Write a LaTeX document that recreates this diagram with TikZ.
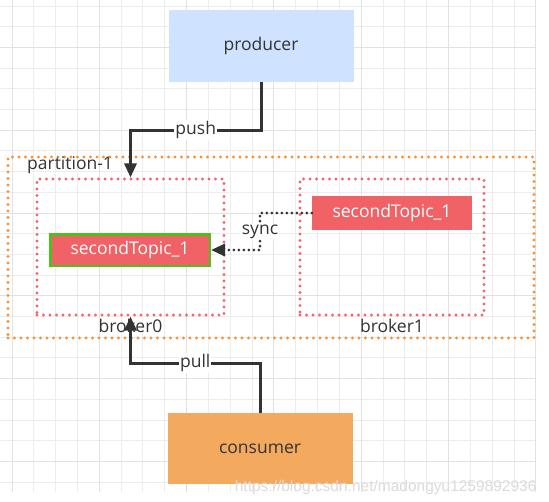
\documentclass[tikz,border=0pt]{standalone}
\usepackage{fontspec}
\setmainfont{Open Sans}
\newfontfamily\wmfont{Liberation Sans}
\usetikzlibrary{arrows.meta,calc}
\definecolor{kgrid}{HTML}{EDEDED}
\definecolor{kgridb}{HTML}{E2E2E2}
\definecolor{ktext}{HTML}{333333}
\definecolor{kblue}{HTML}{CFE2FF}
\definecolor{korange}{HTML}{F4AA5E}
\definecolor{kred}{HTML}{F06265}
\definecolor{kgreen}{HTML}{52BE1D}
\definecolor{kdoto}{HTML}{F7923A}
\definecolor{kdotr}{HTML}{F26670}
\tikzset{
  gridln/.style={kgrid,line width=1pt},
  gridmaj/.style={kgridb,line width=1pt},
  client/.style={minimum width=185pt,minimum height=72pt,inner sep=0pt,text=ktext},
  group/.style={line width=3.1pt,line cap=round,dash pattern=on 0pt off 6.5pt,inner sep=0pt},
  topic/.style={fill=kred,text=white,minimum width=160pt,minimum height=34pt,inner sep=0pt},
  lbl/.style={text=ktext,inner sep=1pt},
  onln/.style={lbl,fill=white},
  flow/.style={-{Triangle[length=14pt,width=12pt]},line width=3pt,draw=ktext},
  syncln/.style={-{Triangle[length=14pt,width=12pt]},line width=3pt,draw=ktext,line cap=round,dash pattern=on 0pt off 5pt},
}
\begin{document}
\begin{tikzpicture}[x=1pt,y=-1pt,font=\fontsize{17.5}{21}\selectfont]
  \fill[white] (0,0) rectangle (549,501);
  \useasboundingbox (0,0) rectangle (549,501);
  % background grid
  \foreach \k in {0,...,24} \draw[gridln] ({12+21.83*\k},0) -- ({12+21.83*\k},492);
  \foreach \k in {0,...,23} \draw[gridln] (0,{6+20.7*\k}) -- (536,{6+20.7*\k});
  \foreach \k in {0,4,...,24} \draw[gridmaj] ({12+21.83*\k},0) -- ({12+21.83*\k},492);
  \foreach \k in {2,6,...,22} \draw[gridmaj] (0,{6+20.7*\k}) -- (536,{6+20.7*\k});

  \node[client,fill=kblue] (producer) at (261,46) {producer};
  \node[client,fill=korange,minimum height=71pt] (consumer) at (260,448.5) {consumer};

  \node[group,draw=kdoto,minimum width=526pt,minimum height=181pt] (partition) at (271,247.5) {};
  \node[lbl,anchor=west] (partlbl) at (26,165) {partition-1};
  \node[group,draw=kdotr,minimum width=187pt,minimum height=136pt] (broker0) at (130.5,247) {};
  \node[group,draw=kdotr,minimum width=184pt,minimum height=136pt] (broker1) at (392,247) {};
  \node[lbl] (b0lbl) at ([yshift=-9pt]broker0.south) {broker0};
  \node[lbl] (b1lbl) at ([yshift=-9pt]broker1.south) {broker1};

  \node[topic,draw=kgreen,line width=2.5pt,minimum width=159.5pt,minimum height=31.5pt] (topic0) at (130,250) {secondTopic\_1};
  \node[topic] (topic1) at (392,213) {secondTopic\_1};

  \coordinate (pushbend) at (broker0.north |- 0,130);
  \coordinate (pullbend) at (broker0.south |- 0,363);
  \coordinate (syncbend) at (topic0.east -| 260,0);
  \draw[flow] (producer.south) |- node[onln,pos=0.75] (pushlbl) {push} (pushbend) -- (broker0.north);
  \draw[flow] (consumer.north) |- node[onln,pos=0.75] (pulllbl) {pull} (pullbend) -- (broker0.south);
  \draw[syncln] (topic1.west) -| node[onln,pos=0.75] (synclbl) {sync} (syncbend) -- (topic0.east);

  \node[text=gray!28,anchor=east,font=\wmfont\fontsize{15.5}{18}\selectfont] (wmark) at (540,487) {https://blog.csdn.net/madongyu1259892936};
\end{tikzpicture}
\end{document}
